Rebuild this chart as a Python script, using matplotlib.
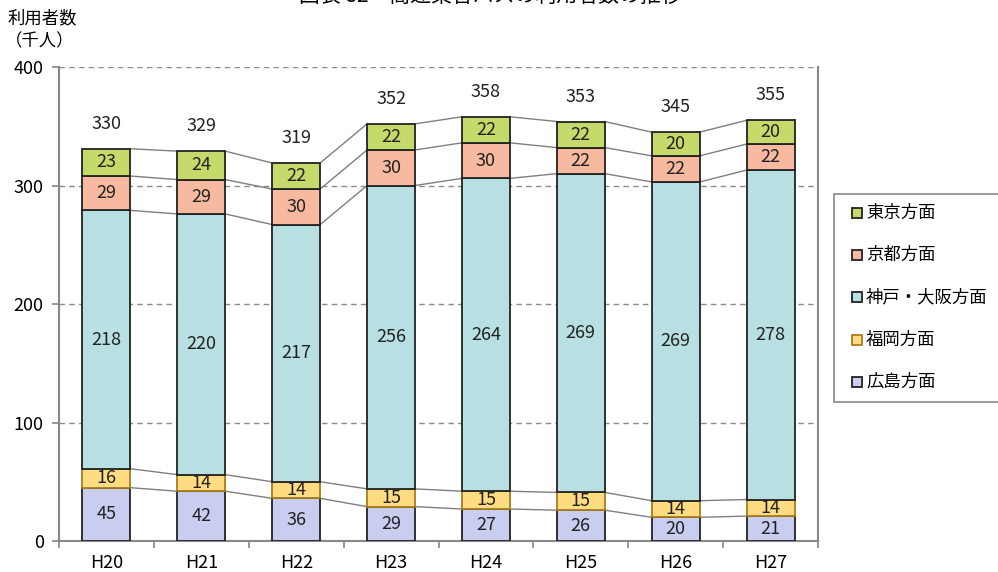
import numpy as np
import matplotlib
matplotlib.use('Agg')
import matplotlib.pyplot as plt
from matplotlib.patches import Rectangle

plt.rcParams['font.family'] = ['Noto Sans CJK JP', 'DejaVu Sans']

years = ['H20', 'H21', 'H22', 'H23', 'H24', 'H25', 'H26', 'H27']
hiroshima = [45, 42, 36, 29, 27, 26, 20, 21]
fukuoka = [16, 14, 14, 15, 15, 15, 14, 14]
kobe_osaka = [218, 220, 217, 256, 264, 269, 269, 278]
kyoto = [29, 29, 30, 30, 30, 22, 22, 22]
tokyo = [23, 24, 22, 22, 22, 22, 20, 20]
totals = [330, 329, 319, 352, 358, 353, 345, 355]

# bottom to top
series = [
    ('広島方面', hiroshima, '#c9cdf0', '#222222'),
    ('福岡方面', fukuoka, '#ffdc82', '#a87d1c'),
    ('神戸・大阪方面', kobe_osaka, '#b8dfe1', '#222222'),
    ('京都方面', kyoto, '#f7b9a0', '#222222'),
    ('東京方面', tokyo, '#c4da6a', '#222222'),
]
legend_names = ['東京方面', '京都方面', '神戸・大阪方面', '福岡方面', '広島方面']

W, H = 998, 572
fig = plt.figure(figsize=(W / 100, H / 100), dpi=100)
ax = fig.add_axes([59 / W, 1 - 541 / H, 759 / W, 474 / H])

num_fs = 13
x = np.arange(len(years))
width = 0.505
bottom = np.zeros(len(years))
styles = {}
for name, vals, fc, ec in series:
    vals = np.array(vals, dtype=float)
    ax.bar(x, vals, width, bottom=bottom, color=fc, edgecolor=ec,
           linewidth=1.3, zorder=3)
    for xi, b, v in zip(x, bottom, vals):
        ax.text(xi, b + v / 2, f'{int(v)}', ha='center', va='center',
                fontsize=num_fs, color='#222222', zorder=4)
    bottom = bottom + vals
    # connector lines between neighbouring bars
    for i in range(len(years) - 1):
        ax.plot([x[i] + width / 2, x[i + 1] - width / 2],
                [bottom[i], bottom[i + 1]], color='#7f7f7f',
                linewidth=1.0, zorder=2)
    styles[name] = (fc, ec)

for xi, top, t in zip(x, bottom, totals):
    ax.text(xi, top + 21, f'{t}', ha='center', va='center',
            fontsize=num_fs, color='#222222')

ax.set_xlim(-0.5, len(years) - 0.5)
ax.set_ylim(0, 400)
ax.set_yticks([0, 100, 200, 300, 400])
ax.set_xticks(x)
ax.set_xticklabels(years)
ax.set_xticks(np.arange(-0.5, len(years)), minor=True)
ax.tick_params(axis='x', which='major', length=0, pad=9, labelsize=num_fs)
ax.tick_params(axis='x', which='minor', length=5, color='#888888', width=1.2)
ax.tick_params(axis='y', length=5, color='#888888', width=1.2,
               labelsize=num_fs, pad=6)
for y in [100, 200, 300, 400]:
    ax.axhline(y, color='#8c8c8c', linestyle=(0, (4, 3)), linewidth=1.0, zorder=1)
for side in ['left', 'bottom', 'right']:
    ax.spines[side].set_color('#888888')
    ax.spines[side].set_linewidth(1.5)
ax.spines['top'].set_visible(False)

# legend box drawn in figure pixels
def fx(px):
    return px / W

def fy(py):
    return 1 - py / H

fig.add_artist(Rectangle((fx(834), fy(402)), fx(200), 208 / H,
                         transform=fig.transFigure, facecolor='white',
                         edgecolor='#888888', linewidth=1.2, clip_on=False))
for k, name in enumerate(legend_names):
    cy = 213 + 42.2 * k
    fc, ec = styles[name]
    fig.add_artist(Rectangle((fx(852), fy(cy + 5)), 10 / W, 10 / H,
                             transform=fig.transFigure, facecolor=fc,
                             edgecolor=ec, linewidth=1.3))
    fig.text(fx(866), fy(cy), name, ha='left', va='center', fontsize=12.5)

fig.text(fx(8), fy(18), '利用者数', ha='left', va='center', fontsize=12.5)
fig.text(fx(5), fy(41), '（千人）', ha='left', va='center', fontsize=12.5)
fig.text(fx(490), fy(7), '図表 82　高速乗合バスの利用者数の推移',
         ha='center', va='bottom', fontsize=15)

fig.savefig('out.png', dpi=100)
